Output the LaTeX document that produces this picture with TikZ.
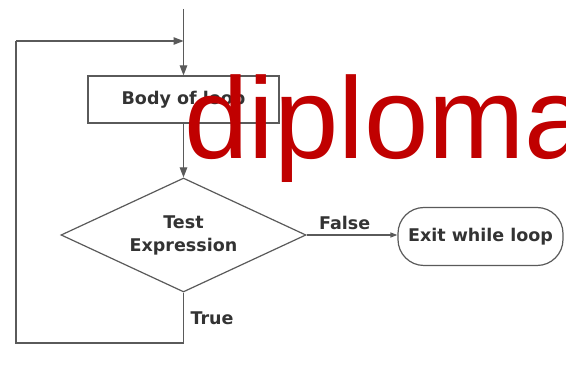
\documentclass[tikz,border=0pt]{standalone}
\usepackage{fontspec}
\setmainfont{DejaVu Sans}
\newfontfamily\wmfont{Liberation Sans}
\usetikzlibrary{arrows.meta,shapes.geometric}
\definecolor{wmred}{HTML}{C00000}
\definecolor{linegray}{HTML}{5A5A5A}
\begin{document}
\begin{tikzpicture}[x=1pt,y=-1pt,
  line/.style={draw=linegray, line width=1.2pt},
  arr/.style={line,-{Triangle[length=10pt,width=7.5pt]}},
  smallarr/.style={line,-{Triangle[length=7pt,width=5pt]}},
  lbl/.style={font=\bfseries\fontsize{17.5}{23}\selectfont, text=black!80},
]
\useasboundingbox (0,0) rectangle (566,387);
\fill[white] (0,0) rectangle (566,387);
% nodes
\node[line, fill=white, minimum width=191pt, minimum height=47pt, inner sep=0pt, lbl] (body) at (183.5,99.5) {Body of loop};
\node[line, diamond, aspect=2.149, fill=white, minimum width=245pt, minimum height=114pt, inner sep=0pt, align=center, lbl] (test) at (183.5,235) {Test\\Expression};
\node[line, fill=white, rounded corners=26pt, minimum width=165pt, minimum height=58pt, inner sep=0pt, lbl] (exit) at (480.5,236.5) {Exit while loop};
\coordinate (start) at (183.5,9);
\coordinate (join) at (183.5,41);
\coordinate (tl) at (16,41);
\coordinate (bl) at (16,343);
\coordinate (br) at (183.5,343);
% connectors
\draw[arr] (start) -- (body.north);
\draw[arr] (body.south) -- (test.north);
\draw[smallarr] (test.east) -- node[lbl, above=1pt, pos=0.42] {False} (test.east -| exit.west);
\draw[line] (test.south) -- (br) -- (bl) -- (tl);
\draw[arr] (tl) -- (join);
\node[lbl, anchor=west] (truelbl) at (187,318) {True};
% watermark
\node[anchor=base west, inner sep=0pt, text=wmred, font=\wmfont\fontsize{115.7}{120}\selectfont] (wm) at (184,159) {diploma};
\end{tikzpicture}
\end{document}
